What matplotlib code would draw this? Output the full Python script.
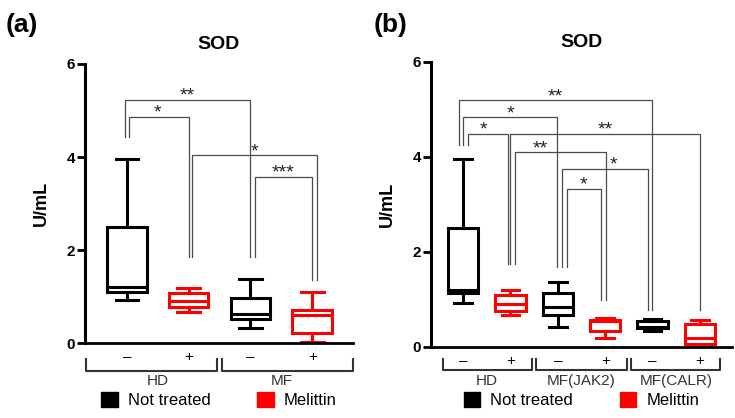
import matplotlib
matplotlib.use('Agg')
import matplotlib.pyplot as plt
from matplotlib.patches import Patch

plt.rcParams['font.family'] = ['Liberation Sans', 'DejaVu Sans']

# panel (a): HD / MF, not treated (-) and melittin (+)
a_groups = ['HD', 'MF']
a_treat = ['\u2013', '+', '\u2013', '+']
a_min = [0.93, 0.67, 0.33, 0.03]
a_q1 = [1.10, 0.78, 0.52, 0.22]
a_med = [1.20, 0.91, 0.62, 0.60]
a_q3 = [2.50, 1.07, 0.97, 0.70]
a_max = [3.96, 1.18, 1.37, 1.10]
a_colors = ['black', 'red', 'black', 'red']
# significance brackets: left box, right box, top, left foot, right foot, label
a_sig = [(0, 2, 5.23, 4.43, 1.85, '**'),
         (0, 1, 4.86, 4.43, 1.85, '*'),
         (1, 3, 4.04, 1.85, 1.35, '*'),
         (2, 3, 3.57, 1.85, 1.35, '***')]
a_legs = [(-0.03, 0.0), (0.04, 0.0), (0.06, 0.075), (0.07, 0.0)]
a_star_dx = [0.0, -0.03, 0.0, 0.0]

# panel (b): HD / MF(JAK2) / MF(CALR)
b_groups = ['HD', 'MF(JAK2)', 'MF(CALR)']
b_treat = ['\u2013', '+', '\u2013', '+', '\u2013', '+']
b_min = [0.93, 0.67, 0.43, 0.18, 0.34, 0.02]
b_q1 = [1.13, 0.76, 0.67, 0.34, 0.39, 0.06]
b_med = [1.20, 0.91, 0.85, 0.55, 0.42, 0.18]
b_q3 = [2.50, 1.09, 1.13, 0.57, 0.55, 0.48]
b_max = [3.95, 1.19, 1.37, 0.60, 0.58, 0.57]
b_colors = ['black', 'red', 'black', 'red', 'black', 'red']
b_sig = [(0, 4, 5.19, 4.25, 0.77, '**'),
         (0, 2, 4.84, 4.25, 1.68, '*'),
         (0, 1, 4.49, 4.25, 1.75, '*'),
         (1, 5, 4.49, 1.75, 0.77, '**'),
         (1, 3, 4.10, 1.75, 0.98, '**'),
         (2, 4, 3.75, 1.68, 0.77, '*'),
         (2, 3, 3.33, 1.68, 0.98, '*')]
b_legs = [(-0.09, -0.01), (0.01, -0.02), (0.10, -0.06), (0.0, 0.0),
          (0.10, 0.01), (0.08, -0.10), (0.19, -0.09)]
b_star_dx = [0.0, 0.0, -0.08, 0.0, -0.42, 0.18, 0.0]


def draw_panel(ax, treat, groups, mins, q1s, meds, q3s, maxs, colors,
               sig, legs, star_dx, xlim, outer, brk_y, tick_y, grp_y, leg_y):
    pos = list(range(len(treat)))
    stats = []
    for i in pos:
        stats.append(dict(whislo=mins[i], q1=q1s[i], med=meds[i],
                          q3=q3s[i], whishi=maxs[i], fliers=[]))
    parts = ax.bxp(stats, positions=pos, widths=0.64, capwidths=0.37,
                   showfliers=False, patch_artist=True)
    for i, c in enumerate(colors):
        parts['boxes'][i].set(facecolor='white', edgecolor=c, linewidth=2.2)
        parts['medians'][i].set(color=c, linewidth=2.2)
        for k in (2 * i, 2 * i + 1):
            parts['whiskers'][k].set(color=c, linewidth=2.2)
            parts['caps'][k].set(color=c, linewidth=2.2)

    # significance brackets
    for n, (i, j, top, lb, rb, lab) in enumerate(sig):
        x1 = pos[i] + legs[n][0]
        x2 = pos[j] + legs[n][1]
        ax.plot([x1, x1, x2, x2], [lb, top, top, rb], color='#4a4a4a',
                lw=0.9, solid_joinstyle='miter')
        ax.text((x1 + x2) / 2 + star_dx[n], top - 0.02, lab, ha='center',
                va='baseline', fontsize=14, color='#222222')

    ax.set_xlim(*xlim)
    ax.set_ylim(0, 6)
    ax.set_yticks([0, 2, 4, 6])
    ax.tick_params(axis='y', length=6, width=2, labelsize=11, pad=1)
    for lbl in ax.get_yticklabels():
        lbl.set_fontweight('bold')
    ax.set_xticks(pos)
    ax.set_xticklabels(treat, fontsize=11)
    ax.tick_params(axis='x', length=0, pad=5)
    ax.spines['top'].set_visible(False)
    ax.spines['right'].set_visible(False)
    ax.spines['left'].set_linewidth(2.2)
    ax.spines['bottom'].set_linewidth(2.0)
    ax.set_title('SOD', fontsize=14, fontweight='bold', pad=11)
    ax.set_ylabel('U/mL', fontsize=13, fontweight='bold', labelpad=12)

    # group brackets under the x axis
    tr = ax.get_xaxis_transform()
    ng = len(groups)
    per = len(treat) // ng
    for g, name in enumerate(groups):
        lo = g * per - 0.5 + 0.035 if g > 0 else -outer
        hi = (g + 1) * per - 0.5 - 0.035 if g < ng - 1 else len(treat) - 1 + outer
        ax.plot([lo, lo, hi, hi], [tick_y, brk_y, brk_y, tick_y],
                transform=tr, clip_on=False, color='#333333', lw=1.5)
        ax.text((g * per + (g + 1) * per - 1) / 2, grp_y, name, transform=tr,
                ha='center', va='center', fontsize=11, color='#333333')

    handles = [Patch(facecolor='black', edgecolor='black', label='Not treated'),
               Patch(facecolor='red', edgecolor='red', label='Melittin')]
    ax.legend(handles=handles, loc='center', bbox_to_anchor=(0.5, leg_y),
              ncol=2, frameon=False, fontsize=12, handlelength=1.0,
              handleheight=1.0, handletextpad=0.6, columnspacing=2.8)


fig = plt.figure(figsize=(7.35, 4.18), dpi=100)
ax_a = fig.add_axes([0.1156, 0.1794, 0.3646, 0.6675])
ax_b = fig.add_axes([0.5864, 0.1699, 0.4096, 0.6818])

draw_panel(ax_a, a_treat, a_groups, a_min, a_q1, a_med, a_q3, a_max,
           a_colors, a_sig, a_legs, a_star_dx, (-0.68, 3.66), 0.66,
           -0.100, -0.057, -0.136, -0.204)
draw_panel(ax_b, b_treat, b_groups, b_min, b_q1, b_med, b_q3, b_max,
           b_colors, b_sig, b_legs, b_star_dx, (-0.675, 5.675), 0.43,
           -0.081, -0.042, -0.119, -0.186)

fig.text(0.03, 0.94, '(a)', fontsize=19, fontweight='bold', ha='center', va='center')
fig.text(0.531, 0.94, '(b)', fontsize=19, fontweight='bold', ha='center', va='center')

plt.savefig('out.png', dpi=100)
